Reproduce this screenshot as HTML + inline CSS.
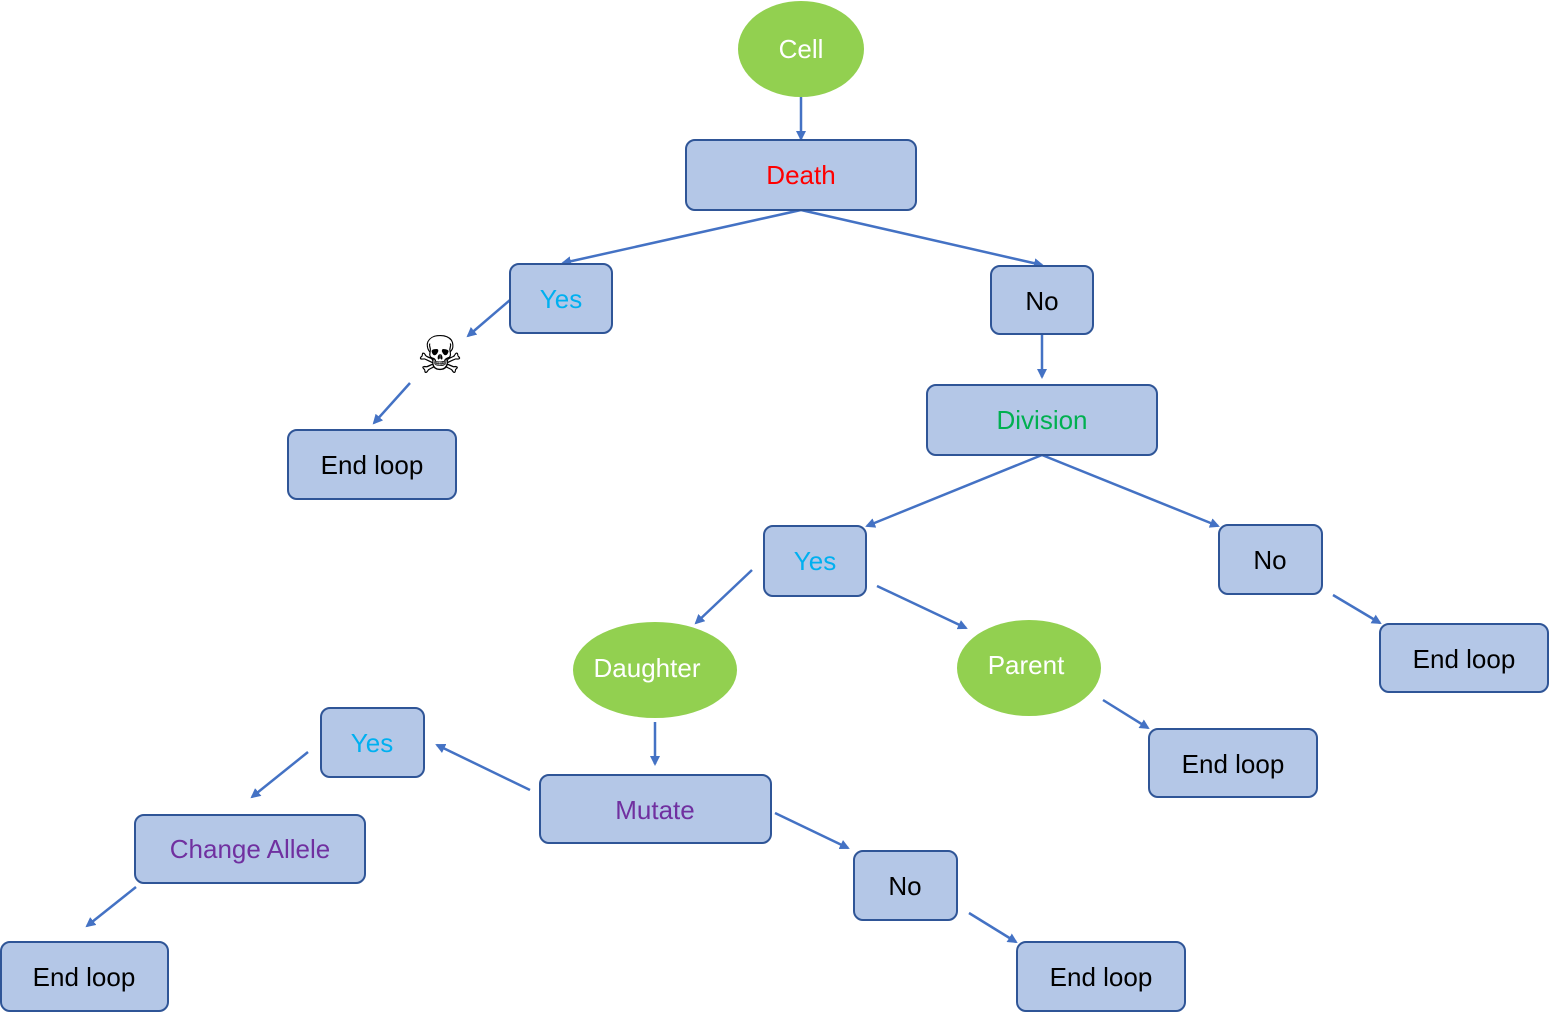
<!DOCTYPE html>
<html><head><meta charset="utf-8"><style>html,body{margin:0;padding:0;background:#fff}</style></head><body>
<svg width="1549" height="1017" viewBox="0 0 1549 1017" xmlns="http://www.w3.org/2000/svg" font-family="Liberation Sans, sans-serif" font-size="26">
<defs><marker id="a" markerWidth="10" markerHeight="10" refX="8" refY="5" orient="auto" markerUnits="userSpaceOnUse"><path d="M0,0 L10,5 L0,10 z" fill="#4472c4"/></marker></defs>
<g stroke="#4472c4" stroke-width="2.5" marker-end="url(#a)">
<line x1="801" y1="97" x2="801" y2="139"/>
<line x1="801" y1="210" x2="563" y2="263"/>
<line x1="801" y1="210" x2="1042" y2="265"/>
<line x1="510" y1="300" x2="468" y2="336"/>
<line x1="410" y1="383" x2="374" y2="423"/>
<line x1="1042" y1="335" x2="1042" y2="377"/>
<line x1="1042" y1="455" x2="867" y2="526"/>
<line x1="1042" y1="455" x2="1218" y2="526"/>
<line x1="752" y1="570" x2="696" y2="623"/>
<line x1="877" y1="586" x2="966" y2="628"/>
<line x1="1333" y1="595" x2="1380" y2="623"/>
<line x1="655" y1="722" x2="655" y2="764"/>
<line x1="1103" y1="700" x2="1148" y2="728"/>
<line x1="530" y1="790" x2="437" y2="745"/>
<line x1="308" y1="752" x2="252" y2="797"/>
<line x1="775" y1="813" x2="848" y2="848"/>
<line x1="136" y1="887" x2="87" y2="926"/>
<line x1="969" y1="913" x2="1016" y2="942"/>
</g>
<g fill="#b4c7e7" stroke="#2f5597" stroke-width="2">
<rect x="686" y="140" width="230" height="70" rx="9"/>
<rect x="510" y="264" width="102" height="69" rx="9"/>
<rect x="991" y="266" width="102" height="68" rx="9"/>
<rect x="927" y="385" width="230" height="70" rx="9"/>
<rect x="764" y="526" width="102" height="70" rx="9"/>
<rect x="1219" y="525" width="103" height="69" rx="9"/>
<rect x="288" y="430" width="168" height="69" rx="9"/>
<rect x="1380" y="624" width="168" height="68" rx="9"/>
<rect x="321" y="708" width="103" height="69" rx="9"/>
<rect x="540" y="775" width="231" height="68" rx="9"/>
<rect x="1149" y="729" width="168" height="68" rx="9"/>
<rect x="135" y="815" width="230" height="68" rx="9"/>
<rect x="854" y="851" width="103" height="69" rx="9"/>
<rect x="1" y="942" width="167" height="69" rx="9"/>
<rect x="1017" y="942" width="168" height="69" rx="9"/>
</g>
<g fill="#92d050">
<ellipse cx="801" cy="49" rx="63" ry="48"/>
<ellipse cx="655" cy="670" rx="82" ry="48"/>
<ellipse cx="1029" cy="668" rx="72" ry="48"/>
</g>
<g text-anchor="middle" dominant-baseline="central">
<text x="801" y="49" fill="#fff">Cell</text>
<text x="647" y="668" fill="#fff">Daughter</text>
<text x="1026" y="665" fill="#fff">Parent</text>
<text x="801" y="175" fill="#ff0000">Death</text>
<text x="561" y="299" fill="#00b0f0">Yes</text>
<text x="1042" y="301">No</text>
<text x="1042" y="420" fill="#00b050">Division</text>
<text x="815" y="561" fill="#00b0f0">Yes</text>
<text x="1270" y="560">No</text>
<text x="372" y="465">End loop</text>
<text x="1464" y="659">End loop</text>
<text x="372" y="743" fill="#00b0f0">Yes</text>
<text x="655" y="810" fill="#7030a0">Mutate</text>
<text x="1233" y="764">End loop</text>
<text x="250" y="849" fill="#7030a0">Change Allele</text>
<text x="905" y="886">No</text>
<text x="84" y="977">End loop</text>
<text x="1101" y="977">End loop</text>
<text x="440" y="356" font-size="52" font-family="DejaVu Sans, sans-serif">☠</text>
</g>
</svg>
</body></html>
